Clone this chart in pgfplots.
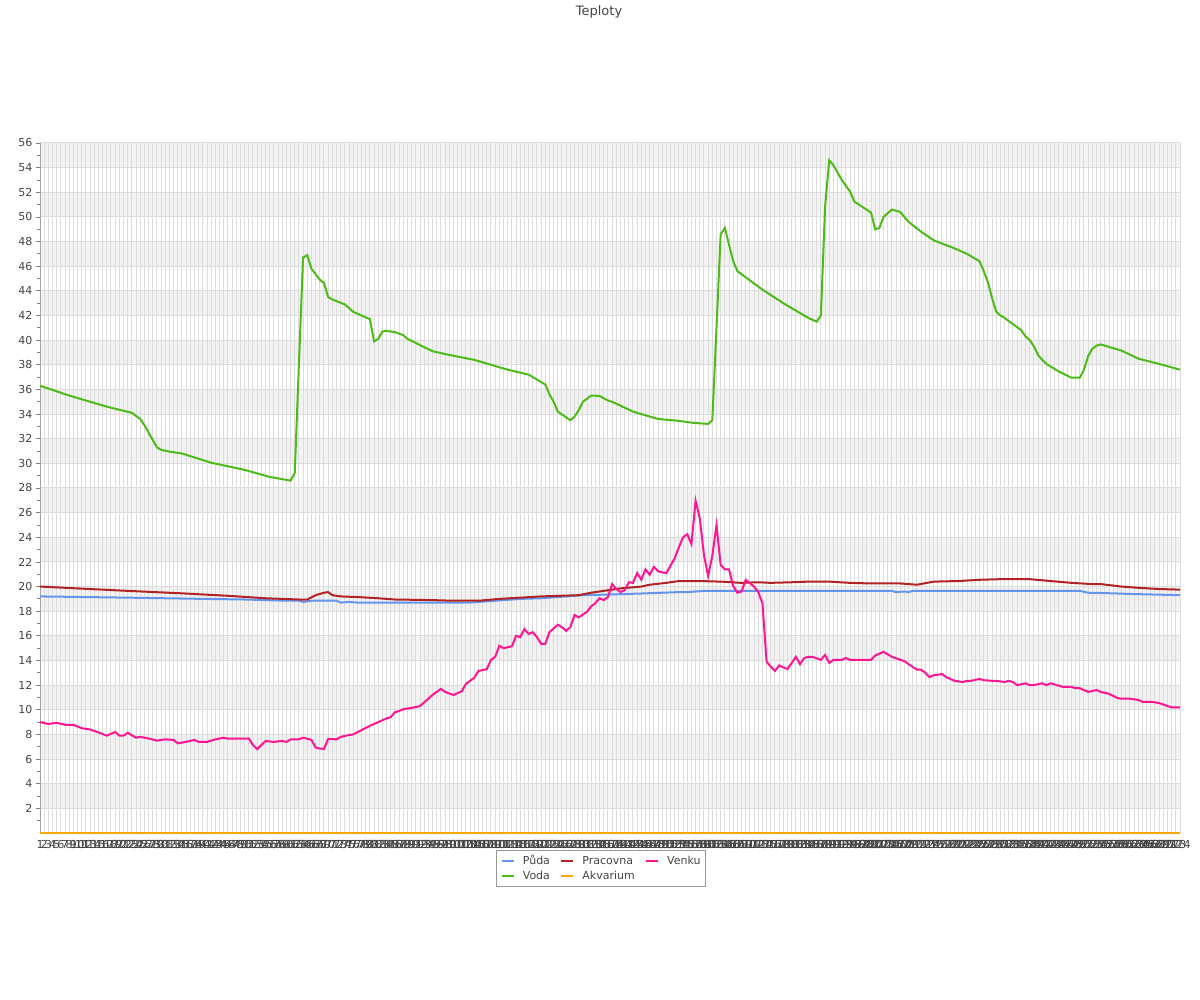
\documentclass[border=0pt]{standalone}
\usepackage{fontspec}
\setmainfont{DejaVu Sans}
\usepackage{pgfplots}
\pgfplotsset{compat=1.18}
\definecolor{puda}{HTML}{6495ED}
\definecolor{prac}{HTML}{B22222}
\definecolor{venku}{HTML}{FF1493}
\definecolor{voda}{HTML}{4CBB17}
\definecolor{akv}{HTML}{FFA500}
\definecolor{band}{HTML}{F2F2F2}
\definecolor{gridc}{HTML}{DCDCDC}
\definecolor{txt}{HTML}{444444}
\begin{document}
\begin{tikzpicture}
\begin{axis}[
 at={(40pt,167pt)}, anchor=south west,
 scale only axis, width=1140pt, height=690pt,
 xmin=1, xmax=274, ymin=0, ymax=56,
 clip=false, set layers,
 axis lines=left,
 axis line style={-, draw=gray!70, line width=1pt},
 x axis line style={draw=none},
 every outer x axis line/.append style={-},
 every outer y axis line/.append style={-},
 xtick={1,...,274},
 ytick={2,4,...,56},
 minor ytick={1,3,...,55},
 grid=major,
 major grid style={draw=gridc, line width=1pt},
 tick align=outside,
 major tick length=4pt, minor tick length=3pt,
 xtick style={draw=none},
 ytick style={draw=gray, line width=0.8pt},
 ticklabel style={font=\fontsize{11}{13}\selectfont, text=txt},
 /pgf/number format/assume math mode=true,
 title={Teploty},
 title style={at={(axis description cs:0.5,1)}, anchor=center, xshift=-11pt, yshift=125pt, font=\fontsize{13}{15}\selectfont, text=txt},
 legend columns=3,
 legend style={at={(axis description cs:0.5,0)}, anchor=north, xshift=-9pt, yshift=-17pt, draw=gray!80, line width=0.8pt, font=\fontsize{11}{13}\selectfont, text=txt, inner xsep=4pt, inner ysep=4pt, row sep=3pt, nodes={inner sep=1pt}, /tikz/every odd column/.append style={column sep=7pt}, /tikz/every even column/.append style={column sep=9pt}},
 legend cell align=left,
 legend image code/.code={\draw[#1, line width=2.4pt] (0pt,0pt) -- (12pt,0pt);},
]
\begin{pgfonlayer}{axis background}
\fill[band] (axis cs:1,2) rectangle (axis cs:274,4);
\fill[band] (axis cs:1,6) rectangle (axis cs:274,8);
\fill[band] (axis cs:1,10) rectangle (axis cs:274,12);
\fill[band] (axis cs:1,14) rectangle (axis cs:274,16);
\fill[band] (axis cs:1,18) rectangle (axis cs:274,20);
\fill[band] (axis cs:1,22) rectangle (axis cs:274,24);
\fill[band] (axis cs:1,26) rectangle (axis cs:274,28);
\fill[band] (axis cs:1,30) rectangle (axis cs:274,32);
\fill[band] (axis cs:1,34) rectangle (axis cs:274,36);
\fill[band] (axis cs:1,38) rectangle (axis cs:274,40);
\fill[band] (axis cs:1,42) rectangle (axis cs:274,44);
\fill[band] (axis cs:1,46) rectangle (axis cs:274,48);
\fill[band] (axis cs:1,50) rectangle (axis cs:274,52);
\fill[band] (axis cs:1,54) rectangle (axis cs:274,56);
\end{pgfonlayer}

\addplot[puda, line width=2pt] coordinates {(1,19.2)(22,19.1)(40,19.0)(50,18.95)(60,18.85)(63,18.85)(64,18.75)(66,18.85)(72,18.85)(73,18.7)(75,18.75)(77,18.7)(104,18.7)(108,18.8)(116,19.0)(121,19.05)(127,19.2)(131,19.3)(137,19.35)(142,19.4)(150,19.5)(154,19.55)(156,19.55)(158,19.6)(160,19.65)(205,19.65)(206,19.55)(208,19.6)(209,19.55)(210,19.65)(250,19.65)(252,19.5)(258,19.45)(262,19.4)(268,19.35)(274,19.3)};
\addlegendentry{Půda}

\addplot[prac, line width=2pt] coordinates {(1,20.0)(10,19.85)(22,19.65)(35,19.45)(46,19.25)(55,19.05)(63,18.95)(65,18.95)(67,19.3)(69,19.5)(70,19.55)(71,19.3)(73,19.2)(77,19.15)(82,19.05)(86,18.95)(95,18.9)(100,18.85)(106,18.85)(111,19.0)(116,19.1)(121,19.2)(130,19.3)(133,19.5)(136,19.65)(140,19.85)(145,20.0)(147,20.15)(151,20.3)(154,20.45)(159,20.45)(164,20.4)(169,20.3)(173,20.35)(176,20.3)(181,20.35)(185,20.4)(190,20.4)(195,20.3)(200,20.25)(207,20.25)(211,20.15)(215,20.4)(221,20.45)(226,20.55)(231,20.6)(238,20.6)(243,20.45)(248,20.3)(253,20.2)(255,20.2)(260,20.0)(264,19.9)(269,19.8)(274,19.75)};
\addlegendentry{Pracovna}

\addplot[venku, line width=2pt] coordinates {(1,9.0)(3,8.85)(5,8.94)(7,8.78)(9,8.78)(11,8.5)(13,8.4)(15,8.16)(17,7.9)(19,8.2)(20,7.9)(21,7.9)(22,8.13)(24,7.73)(25,7.8)(27,7.67)(29,7.5)(31,7.6)(33,7.55)(34,7.28)(36,7.4)(38,7.55)(39,7.39)(41,7.39)(42,7.5)(43,7.6)(45,7.73)(46,7.65)(50,7.65)(51,7.67)(52,7.14)(53,6.8)(55,7.47)(57,7.39)(59,7.47)(60,7.39)(61,7.6)(63,7.6)(64,7.73)(65,7.65)(66,7.55)(67,6.94)(68,6.85)(69,6.83)(70,7.63)(72,7.6)(73,7.8)(75,7.95)(76,8.0)(78,8.35)(80,8.7)(82,9.0)(84,9.3)(85,9.4)(86,9.8)(87,9.9)(88,10.05)(90,10.15)(92,10.3)(93,10.6)(95,11.2)(96,11.45)(97,11.7)(98,11.45)(100,11.2)(101,11.35)(102,11.5)(103,12.1)(105,12.6)(106,13.15)(108,13.3)(109,14.05)(110,14.3)(111,15.2)(112,15.0)(114,15.15)(115,16.0)(116,15.9)(117,16.55)(118,16.15)(119,16.3)(120,15.9)(121,15.35)(122,15.35)(123,16.3)(125,16.9)(126,16.7)(127,16.4)(128,16.7)(129,17.7)(130,17.5)(132,17.95)(133,18.4)(134,18.65)(135,19.05)(136,18.9)(137,19.15)(138,20.2)(139,19.8)(140,19.55)(141,19.7)(142,20.35)(143,20.3)(144,21.1)(145,20.55)(146,21.4)(147,20.95)(148,21.6)(149,21.25)(150,21.15)(151,21.1)(152,21.7)(153,22.3)(154,23.2)(155,24.0)(156,24.25)(157,23.45)(158,26.95)(159,25.55)(160,22.55)(161,20.85)(162,22.5)(163,25.0)(164,21.75)(165,21.4)(166,21.4)(167,20.05)(168,19.5)(169,19.6)(170,20.55)(172,20.0)(173,19.55)(174,18.65)(175,13.9)(176,13.5)(177,13.15)(178,13.6)(180,13.3)(182,14.3)(183,13.7)(184,14.2)(185,14.3)(186,14.3)(188,14.05)(189,14.45)(190,13.8)(191,14.05)(193,14.05)(194,14.2)(195,14.05)(200,14.05)(201,14.4)(203,14.7)(205,14.3)(207,14.05)(208,13.95)(209,13.7)(211,13.25)(212,13.25)(213,13.0)(214,12.65)(215,12.8)(217,12.9)(218,12.65)(219,12.5)(220,12.35)(222,12.25)(223,12.35)(224,12.35)(226,12.5)(227,12.4)(229,12.35)(230,12.35)(232,12.25)(233,12.35)(234,12.25)(235,12.0)(237,12.15)(238,12.0)(239,12.0)(241,12.15)(242,12.0)(243,12.15)(245,11.95)(246,11.85)(248,11.85)(249,11.75)(250,11.75)(252,11.45)(254,11.6)(255,11.45)(257,11.3)(259,10.95)(260,10.9)(262,10.9)(264,10.8)(265,10.65)(267,10.65)(269,10.55)(271,10.3)(272,10.2)(274,10.2)};
\addlegendentry{Venku}

\addplot[voda, line width=2pt] coordinates {(1,36.3)(8,35.5)(17,34.6)(23,34.1)(25,33.6)(26,33.1)(27,32.5)(28,31.9)(29,31.3)(30,31.1)(32,30.95)(35,30.8)(42,30.05)(50,29.47)(56,28.9)(61,28.6)(62,29.2)(63,38)(64,46.7)(65,46.9)(66,45.8)(68,44.9)(69,44.65)(70,43.5)(71,43.3)(74,42.9)(76,42.3)(80,41.7)(81,39.9)(82,40.1)(83,40.7)(84,40.75)(86,40.65)(88,40.4)(89,40.1)(92,39.6)(95,39.1)(99,38.8)(105,38.4)(107,38.2)(113,37.6)(118,37.2)(122,36.4)(123,35.6)(124,35.0)(125,34.2)(128,33.5)(129,33.8)(130,34.3)(131,35.0)(133,35.5)(135,35.47)(137,35.1)(138,35.0)(143,34.2)(147,33.8)(149,33.6)(154,33.45)(157,33.3)(161,33.2)(162,33.5)(163,41)(164,48.6)(165,49.1)(167,46.4)(168,45.6)(174,44.1)(179,43.0)(185,41.8)(187,41.5)(188,42.0)(189,50.8)(190,54.6)(191,54.2)(193,53.0)(195,52.05)(196,51.25)(198,50.8)(200,50.35)(201,49.0)(202,49.1)(203,50.0)(205,50.6)(207,50.4)(209,49.6)(212,48.8)(215,48.1)(220,47.45)(223,47.0)(226,46.4)(227,45.6)(228,44.7)(229,43.4)(230,42.3)(231,42.0)(232,41.8)(234,41.3)(236,40.8)(237,40.3)(238,40.0)(239,39.5)(240,38.8)(241,38.4)(242,38.07)(245,37.45)(248,36.95)(250,36.95)(251,37.6)(252,38.7)(253,39.3)(254,39.55)(255,39.65)(260,39.15)(264,38.5)(270,37.98)(274,37.6)};
\addlegendentry{Voda}

\addplot[akv, line width=2pt] coordinates {(1,0)(100,0)(200,0)(274,0)};
\addlegendentry{Akvarium}
\end{axis}
\path (0,0) rectangle (1200pt,1000pt);
\end{tikzpicture}
\end{document}
